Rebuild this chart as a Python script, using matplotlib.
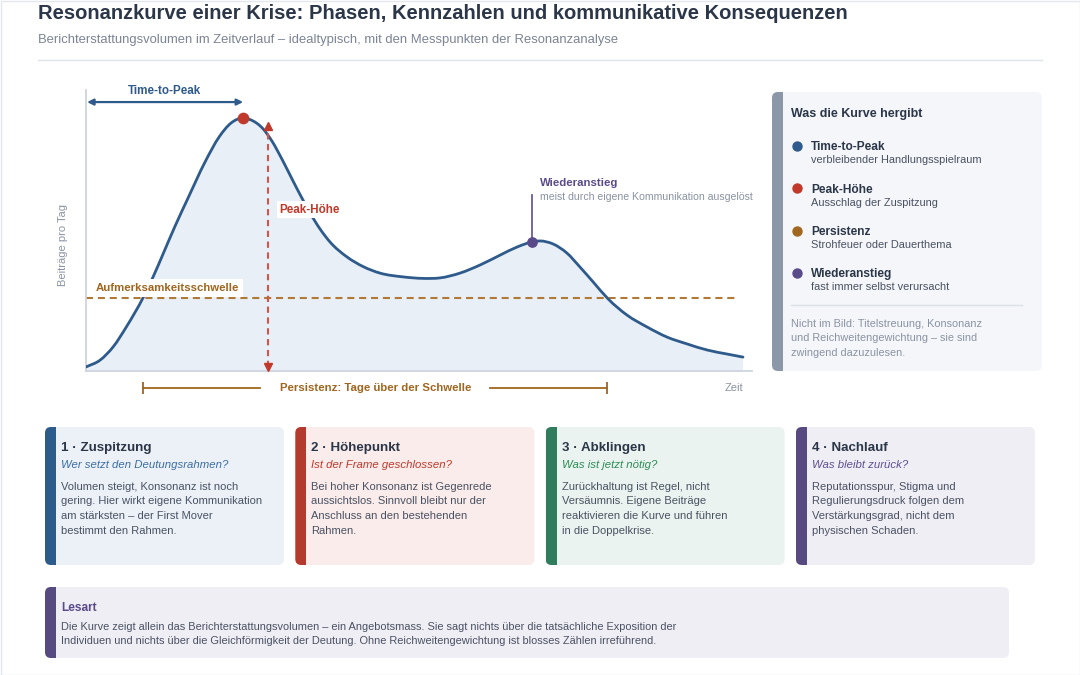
import numpy as np
import matplotlib
matplotlib.use("Agg")
import matplotlib.pyplot as plt
from matplotlib.patches import FancyBboxPatch, Rectangle, PathPatch
from matplotlib.path import Path

plt.rcParams['font.family'] = ['Liberation Sans', 'DejaVu Sans']

# ---------------- data ----------------
days = [0.0, 0.64, 1.23, 1.86, 2.59, 3.05, 3.5, 4.05, 4.64, 5.41, 6.05, 6.59, 7.14,
        7.45, 8.05, 8.45, 8.95, 9.41, 9.86, 10.18, 10.64, 11.09, 11.86, 12.59, 13.36,
        14.41, 15.32, 16.09, 17.0, 17.91, 18.82, 19.59, 20.27, 20.64, 21.23, 21.86,
        22.45, 23.05, 23.73, 24.59, 25.5, 26.41, 27.32, 28.23, 29.14, 29.86]
volume = [1.6, 4.3, 9.5, 17.8, 28.9, 37.2, 46.2, 57.3, 68.4, 82.6, 92.5, 98.0, 100.0,
          99.4, 95.7, 90.9, 83.0, 75.1, 67.6, 62.5, 56.1, 51.0, 45.1, 41.3, 38.7,
          37.2, 36.6, 36.8, 38.7, 41.9, 45.8, 49.0, 51.0, 51.4, 50.2, 46.6,
          41.1, 35.2, 28.5, 22.1, 17.4, 13.4, 10.7, 8.3, 6.7, 5.5]
threshold = 29.0
rebound_day = 20.27
peak_marker_day = 8.27
persist_start, persist_end = 2.6, 23.7

title = "Resonanzkurve einer Krise: Phasen, Kennzahlen und kommunikative Konsequenzen"
subtitle = "Berichterstattungsvolumen im Zeitverlauf – idealtypisch, mit den Messpunkten der Resonanzanalyse"

legend_names = ["Time-to-Peak", "Peak-Höhe", "Persistenz", "Wiederanstieg"]
legend_desc = ["verbleibender Handlungsspielraum", "Ausschlag der Zuspitzung",
               "Strohfeuer oder Dauerthema", "fast immer selbst verursacht"]
legend_note = ["Nicht im Bild: Titelstreuung, Konsonanz",
               "und Reichweitengewichtung – sie sind",
               "zwingend dazuzulesen."]

phase_titles = ["1 · Zuspitzung", "2 · Höhepunkt", "3 · Abklingen", "4 · Nachlauf"]
phase_questions = ["Wer setzt den Deutungsrahmen?", "Ist der Frame geschlossen?",
                   "Was ist jetzt nötig?", "Was bleibt zurück?"]
phase_texts = [
    ["Volumen steigt, Konsonanz ist noch", "gering. Hier wirkt eigene Kommunikation",
     "am stärksten – der First Mover", "bestimmt den Rahmen."],
    ["Bei hoher Konsonanz ist Gegenrede", "aussichtslos. Sinnvoll bleibt nur der",
     "Anschluss an den bestehenden", "Rahmen."],
    ["Zurückhaltung ist Regel, nicht", "Versäumnis. Eigene Beiträge",
     "reaktivieren die Kurve und führen", "in die Doppelkrise."],
    ["Reputationsspur, Stigma und", "Regulierungsdruck folgen dem",
     "Verstärkungsgrad, nicht dem", "physischen Schaden."],
]
lesart_title = "Lesart"
lesart_lines = [
    "Die Kurve zeigt allein das Berichterstattungsvolumen – ein Angebotsmass. Sie sagt nichts über die tatsächliche Exposition der",
    "Individuen und nichts über die Gleichförmigkeit der Deutung. Ohne Reichweitengewichtung ist blosses Zählen irreführend.",
]

# ---------------- colours ----------------
BLUE = '#2e5b8b'
RED = '#c0392b'
BROWN = '#a0661f'
PURPLE = '#5a4a8a'
DARK = '#2b3648'
BODY = '#4a5262'
GRAY = '#8a93a3'

legend_colors = [BLUE, RED, BROWN, PURPLE]
card_bg = ['#ecf1f8', '#f9eceb', '#eaf3ef', '#efeef5']
card_bar = ['#2e5c8a', '#b23a2e', '#2f7d5c', '#574a80']
q_colors = ['#3b6ea5', '#c0392b', '#2e8b57', '#5e4f92']

W, H = 1080, 675
fig = plt.figure(figsize=(W / 100, H / 100), dpi=100)
fig.patch.set_facecolor('white')

# overlay axes in pixel coordinates
ov = fig.add_axes([0, 0, 1, 1])
ov.set_xlim(0, W)
ov.set_ylim(H, 0)
ov.axis('off')


def T(x, yc, s, size, **kw):
    """text with visual centre at yc (pixel)"""
    ov.text(x, yc + 0.36 * size * 100 / 72, s, fontsize=size, va='baseline', **kw)


def card(x, y, w, h, bg, bar, r=6, bw=11):
    box = FancyBboxPatch((x, y), w, h, boxstyle=f"round,pad=0,rounding_size={r}",
                         fc=bg, ec='none')
    ov.add_patch(box)
    b = Rectangle((x, y), bw, h, fc=bar, ec='none')
    ov.add_patch(b)
    b.set_clip_path(box)


# page frame
ov.add_patch(Rectangle((0.5, 0.5), W - 1, H - 1, fc='none', ec='#e4e8ee', lw=1))

# title
ov.text(38, 19, title, fontsize=14.5, fontweight='bold', color=DARK, va='baseline')
ov.text(38, 43.3, subtitle, fontsize=9.35, color='#7b8494', va='baseline')
ov.plot([38, 1042], [60, 60], color='#dfe4eb', lw=1)

# right panel
card(772, 92, 270, 279, '#f4f6f9', '#8c98a8')
T(791, 113, "Was die Kurve hergibt", 9.0, fontweight='bold', color=DARK)
for i, (nm, ds, c) in enumerate(zip(legend_names, legend_desc, legend_colors)):
    yc = 146 + i * 42.3
    ov.scatter([797], [yc], s=42, color=c, zorder=3)
    T(811, yc, nm, 8.6, fontweight='bold', color=DARK)
    T(811, yc + 13.5, ds, 7.9, color=BODY)
ov.plot([791, 1022], [305, 305], color='#dde2e9', lw=1)
for j, ln in enumerate(legend_note):
    T(791, 323 + j * 14.5, ln, 7.8, color=GRAY)

# phase cards
for i in range(4):
    x0 = 45 + i * 250.3
    card(x0, 427, 239, 138, card_bg[i], card_bar[i])
    T(x0 + 16, 446, phase_titles[i], 9.6, fontweight='bold', color=DARK)
    T(x0 + 16, 464, phase_questions[i], 8.2, style='italic', color=q_colors[i])
    for j, ln in enumerate(phase_texts[i]):
        T(x0 + 16, 486 + j * 14.5, ln, 8.0, color=BODY)

# Lesart box
card(45, 587, 964, 71, '#efeef5', '#574a80')
T(61, 607, lesart_title, 8.6, fontweight='bold', color=PURPLE)
for j, ln in enumerate(lesart_lines):
    T(61, 625.7 + j * 14.3, ln, 7.9, color=BODY)

# ---------------- chart ----------------
ax = fig.add_axes([86 / W, 1 - 371 / H, (752 - 86) / W, (371 - 90) / H])
ax.patch.set_alpha(0)
ax.set_xlim(0, 30.27)
ax.set_ylim(0, 111.07)
for s in ['top', 'right']:
    ax.spines[s].set_visible(False)
for s in ['left', 'bottom']:
    ax.spines[s].set_color('#cdd4de')
    ax.spines[s].set_linewidth(1.3)
ax.set_xticks([])
ax.set_yticks([])

d = np.array(days)
v = np.array(volume)

# smooth cubic-Hermite path through the read points (drawn in data coords)
m = np.gradient(v, d)
verts = [(d[0], v[0])]
codes = [Path.MOVETO]
for i in range(len(d) - 1):
    h = d[i + 1] - d[i]
    verts += [(d[i] + h / 3, v[i] + m[i] * h / 3),
              (d[i + 1] - h / 3, v[i + 1] - m[i + 1] * h / 3),
              (d[i + 1], v[i + 1])]
    codes += [Path.CURVE4] * 3
curve_path = Path(verts, codes)
fill_path = Path(verts + [(d[-1], 0), (d[0], 0), (d[0], v[0])],
                 codes + [Path.LINETO, Path.LINETO, Path.CLOSEPOLY])

ax.add_patch(PathPatch(fill_path, fc='#e9eff7', ec='none', zorder=1))
ax.plot([0, 29.6], [threshold, threshold], color='#b07a35', lw=1.5,
        ls=(0, (3.4, 2.3)), zorder=2)
ax.add_patch(PathPatch(curve_path, fc='none', ec=BLUE, lw=2.0, zorder=3,
                       capstyle='round', joinstyle='round'))

# peak
pi = int(np.argmax(v))
pk_d, pk_v = d[pi], v[pi]
ax.scatter([pk_d], [pk_v], s=55, color=RED, zorder=6)

# Peak-Höhe arrow
ax.plot([peak_marker_day, peak_marker_day], [1.5, pk_v - 3.0], color='#d0564b',
        lw=1.5, ls=(0, (3.0, 2.2)), zorder=4)
ax.plot([peak_marker_day], [pk_v - 3.0], marker='^', ms=6, color='#c0392b', zorder=4, lw=0)
ax.plot([peak_marker_day], [1.6], marker='v', ms=6, color='#c0392b', zorder=4, lw=0)
ax.text(peak_marker_day + 0.5, 63.8, "Peak-Höhe", fontsize=8.4, fontweight='bold',
        color=RED, va='center', ha='left', zorder=7,
        bbox=dict(boxstyle='square,pad=0.2', fc='white', ec='none'))

# Time-to-Peak
ax.annotate('', xy=(pk_d, 106.3), xytext=(0.05, 106.3), annotation_clip=False,
            arrowprops=dict(arrowstyle='<|-|>', color=BLUE, lw=1.6,
                            mutation_scale=9, shrinkA=0, shrinkB=0))
ax.text(pk_d / 2, 110.7, "Time-to-Peak", fontsize=8.4, fontweight='bold', color=BLUE,
        ha='center', va='center', clip_on=False)

# threshold label
ax.text(0.42, 32.9, "Aufmerksamkeitsschwelle", fontsize=8.2, fontweight='bold',
        color=BROWN, va='center', ha='left', zorder=7,
        bbox=dict(boxstyle='square,pad=0.35', fc='white', ec='none'))

# Wiederanstieg
ri = int(np.argmin(np.abs(d - rebound_day)))
rb_d, rb_v = d[ri], v[ri]
ax.plot([rb_d, rb_d], [rb_v, 69.6], color='#6a5a9a', lw=1.3, zorder=4)
ax.scatter([rb_d], [rb_v], s=45, color=PURPLE, zorder=6)
ax.text(rb_d + 0.37, 74.3, "Wiederanstieg", fontsize=8.2, fontweight='bold',
        color=PURPLE, va='center', ha='left')
ax.text(rb_d + 0.37, 68.6, "meist durch eigene Kommunikation ausgelöst", fontsize=7.6,
        color=GRAY, va='center', ha='left')

# Persistenz bracket
yb = -6.7
mid = (persist_start + persist_end) / 2
gap = 5.23
ax.plot([persist_start, mid - gap], [yb, yb], color=BROWN, lw=1.3, clip_on=False)
ax.plot([mid + gap, persist_end], [yb, yb], color=BROWN, lw=1.3, clip_on=False)
ax.plot([persist_start, persist_end], [yb, yb], marker='|', ms=9, mew=1.3,
        color=BROWN, lw=0, clip_on=False)
ax.text(mid, yb, "Persistenz: Tage über der Schwelle", fontsize=8.2, fontweight='bold',
        color=BROWN, ha='center', va='center', clip_on=False)

ax.text(29.86, yb, "Zeit", fontsize=8.0, color=GRAY, ha='right', va='center', clip_on=False)
fig.text(63.5 / W, 1 - 245 / H, "Beiträge pro Tag", fontsize=8.0, color=GRAY,
         rotation=90, ha='center', va='center')

fig.savefig('out.png', dpi=100, facecolor='white')
